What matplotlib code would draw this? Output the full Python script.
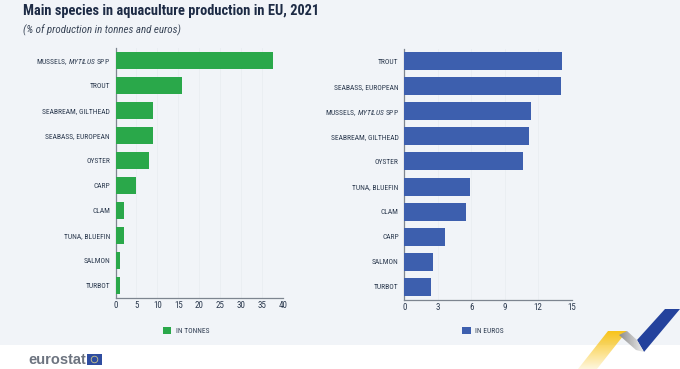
import matplotlib
matplotlib.use('Agg')
import matplotlib.pyplot as plt
from matplotlib.patches import Polygon, Rectangle
import numpy as np

plt.rcParams['font.family'] = ['Roboto Condensed', 'DejaVu Sans']
plt.rcParams['mathtext.fontset'] = 'custom'
plt.rcParams['mathtext.it'] = 'Roboto Condensed:italic'
plt.rcParams['mathtext.rm'] = 'Roboto Condensed'

W, H = 680, 369

# Donnees
species_tonnes = ['MUSSELS, $\\mathit{MYTILUS}$ SPP', 'TROUT', 'SEABREAM, GILTHEAD', 'SEABASS, EUROPEAN', 'OYSTER',
                  'CARP', 'CLAM', 'TUNA, BLUEFIN', 'SALMON', 'TURBOT']
tonnes = [37.7, 15.9, 9.0, 9.0, 8.0, 4.9, 2.0, 2.0, 1.05, 1.05]
species_euros = ['TROUT', 'SEABASS, EUROPEAN', 'MUSSELS, $\\mathit{MYTILUS}$ SPP', 'SEABREAM, GILTHEAD', 'OYSTER',
                 'TUNA, BLUEFIN', 'CLAM', 'CARP', 'SALMON', 'TURBOT']
euros = [14.1, 14.0, 11.35, 11.2, 10.6, 5.9, 5.5, 3.67, 2.6, 2.42]
ticks_tonnes = [0, 5, 10, 15, 20, 25, 30, 35, 40]
ticks_euros = [0, 3, 6, 9, 12, 15]

DARK = '#2c3a4f'
GREEN = '#2aa84a'
BLUE = '#3d5fae'


def panel(x0, x1, y0, y1):
    return fig.add_axes([x0 / W, 1 - y1 / H, (x1 - x0) / W, (y1 - y0) / H])


def draw(ax, names, vals, ticks, color, label, height, anchor):
    ax.barh(range(len(vals)), vals, height=height, color=color, label=label, zorder=3)
    ax.set_ylim(len(vals) - 0.5, -0.5)
    ax.set_xlim(ticks[0], ticks[-1])
    ax.set_yticks(range(len(vals)), names)
    ax.set_xticks(ticks)
    ax.tick_params(axis='both', length=0, labelcolor=DARK)
    ax.tick_params(axis='y', pad=4, labelsize=5.4)
    ax.tick_params(axis='x', pad=2.5, labelsize=6.5)
    ax.grid(axis='x', color='#e9edf2', lw=0.6, zorder=0)
    ax.patch.set_alpha(0)
    for s in ['top', 'right']:
        ax.spines[s].set_visible(False)
    for s in ['left', 'bottom']:
        ax.spines[s].set_color('#7d8590')
        ax.spines[s].set_linewidth(0.9)
    ax.legend(loc='center', bbox_to_anchor=anchor, bbox_transform=fig.transFigure, frameon=False,
              fontsize=5.3, labelcolor=DARK, handlelength=1.1, handleheight=1.1, handletextpad=0.6,
              borderpad=0, borderaxespad=0)


fig = plt.figure(figsize=(W / 100, H / 100), dpi=100, facecolor='white')

# Fond et decorations, en pixels
bg = fig.add_axes([0, 0, 1, 1])
bg.set_xlim(0, W)
bg.set_ylim(H, 0)
bg.axis('off')
bg.add_patch(Rectangle((0, 0), W, 345, color='#f1f4f8', lw=0))
bg.add_patch(Polygon([(665, 309), (680, 309), (644, 352), (637, 340)], color='#24429c', lw=0))

grad = np.linspace(0, 1, 64).reshape(-1, 1)
yellow = bg.imshow(np.dstack([np.full((64, 1), 0.98), np.full((64, 1), 0.77), np.full((64, 1), 0.1), 1 - grad * 0.85]),
                   extent=(570, 630, 369, 331), aspect='auto', zorder=2)
yellow.set_clip_path(Polygon([(608, 331), (627, 331), (597, 369), (578, 369)], transform=bg.transData))
gray = bg.imshow(np.linspace(0.55, 0.93, 64).reshape(1, -1), cmap='gray', vmin=0, vmax=1,
                 extent=(619, 644, 352, 331), aspect='auto', zorder=2)
gray.set_clip_path(Polygon([(619, 335), (627, 331), (637, 340), (644, 352), (636, 350)], transform=bg.transData))
bg.set_xlim(0, W)
bg.set_ylim(H, 0)

bg.text(23, 11, 'Main species in aquaculture production in EU, 2021', fontsize=10.4, fontweight='bold',
        color='#1d2b45', va='center', ha='left')
bg.text(23, 30.5, '(% of production in tonnes and euros)', fontsize=7.9, style='italic',
        color='#3a4658', va='center', ha='left')

# Logo
bg.text(28, 359.5, 'eurostat', fontsize=10.5, fontweight='bold', family=['Liberation Sans'], color='#6d7480',
        va='center', ha='left')
bg.add_patch(Rectangle((87, 354), 15, 11, color='#2f4da0', lw=0))
bg.add_patch(plt.Circle((94.5, 359.5), 3.3, fill=False, ec='#c9c48a', lw=0.6))

# Graphiques
ax1 = panel(115.5, 283, 48, 298)
draw(ax1, species_tonnes, tonnes, ticks_tonnes, GREEN, 'IN TONNES', 0.7, (186 / W, 1 - 331 / H))
ax2 = panel(404.3, 571.7, 48.5, 299.5)
draw(ax2, species_euros, euros, ticks_euros, BLUE, 'IN EUROS', 0.72, (483 / W, 1 - 331 / H))

fig.savefig('out.png', dpi=100, facecolor=fig.get_facecolor())
